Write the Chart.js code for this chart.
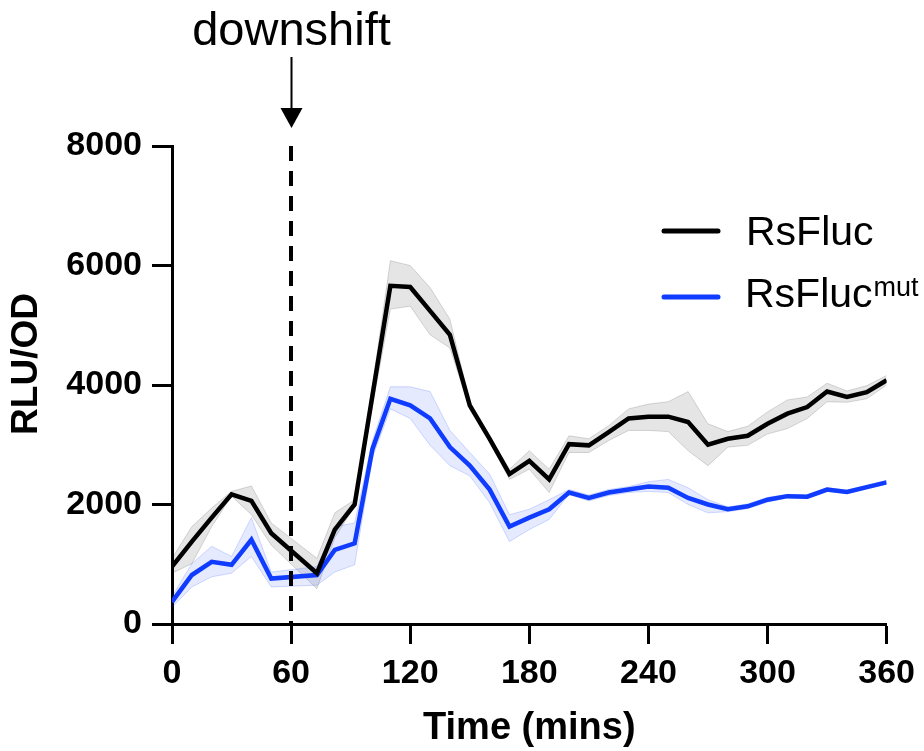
<!DOCTYPE html>
<html lang="en">
<head>
  <meta charset="UTF-8">
  <title>RsFluc downshift</title>
  <script src="https://cdn.jsdelivr.net/npm/chart.js"></script>
  <style>
    body {
      margin: 0;
      background-color: white;
    }
    .chart-box {
      width: 924px;
      height: 751px;
      position: relative;
    }
  </style>
</head>
<body>
  <div class="chart-box">
    <canvas id="lumChart"></canvas>
  </div>

  <script>
    // time points (mins)
    const times = [0, 10, 20, 30, 40, 50, 73, 82, 92, 101, 110, 120, 130, 140, 150, 160, 170, 180,
      190, 200, 210, 220, 230, 240, 250, 260, 270, 280, 290, 300, 310, 320, 330, 340, 350, 360];

    // RsFluc mean and error band
    const rsflucMean = [960, 1380, 1780, 2170, 2060, 1520, 850, 1580, 2000, 3830, 5660, 5640, 5240, 4840, 3660, 3100, 2510, 2730,
      2420, 3010, 2990, 3210, 3440, 3470, 3470, 3380, 3000, 3100, 3150, 3350, 3520, 3630, 3890, 3800, 3880, 4080];
    const rsflucLow = [850, 1010, 1630, 2140, 1830, 1320, 590, 1440, 1970, 3650, 5270, 5320, 4840, 4620, 3600, 3050, 2420, 2590,
      2200, 2870, 2870, 3070, 3240, 3240, 3220, 2900, 2650, 2960, 2990, 3180, 3270, 3440, 3720, 3710, 3770, 4000];
    const rsflucHigh = [1100, 1630, 1940, 2220, 2310, 1690, 1100, 1860, 2080, 4000, 6080, 6000, 5630, 5100, 3720, 3150, 2590, 2900,
      2590, 3150, 3100, 3320, 3600, 3680, 3720, 3890, 3350, 3220, 3310, 3550, 3750, 3800, 4030, 3900, 3990, 4160];

    // RsFluc^mut mean and error band
    const mutMean = [370, 820, 1040, 990, 1410, 760, 820, 1240, 1350, 2930, 3770, 3660, 3440, 2960, 2650, 2250, 1630, 1780,
      1920, 2200, 2110, 2200, 2250, 2300, 2280, 2110, 2000, 1920, 1970, 2080, 2140, 2130, 2250, 2210, 2290, 2370];
    const mutLow = [280, 620, 790, 850, 1130, 620, 650, 870, 990, 2790, 3600, 3440, 2990, 2650, 2480, 2030, 1380, 1580,
      1750, 2170, 2060, 2150, 2200, 2220, 2200, 2000, 1860, 1880, 1930, 2040, 2110, 2100, 2220, 2180, 2260, 2340];
    const mutHigh = [460, 1010, 1300, 1130, 1780, 870, 960, 1630, 1690, 3070, 3970, 3970, 3890, 3240, 2870, 2510, 1830, 1920,
      2080, 2250, 2160, 2250, 2300, 2380, 2420, 2280, 2080, 1960, 2010, 2120, 2170, 2160, 2280, 2240, 2320, 2400];

    const xTicks = [0, 60, 120, 180, 240, 300, 360];
    const yTicks = [0, 2000, 4000, 6000, 8000];
    const downshiftAt = 60;

    const FONT = '"Liberation Sans", Arial, Helvetica, sans-serif';
    const BLUE = '#0f3cff';

    const pts = arr => arr.map((v, i) => ({ x: times[i], y: v }));

    // dashed downshift marker, arrow, labels and custom legend
    const extras = {
      id: 'extras',
      afterDatasetsDraw(chart) {
        const { ctx, chartArea, scales } = chart;
        const x = Math.round(scales.x.getPixelForValue(downshiftAt));
        ctx.save();
        ctx.strokeStyle = '#000';
        ctx.lineWidth = 4;
        ctx.setLineDash([15, 10]);
        ctx.beginPath();
        ctx.moveTo(x, chartArea.top);
        ctx.lineTo(x, chartArea.bottom);
        ctx.stroke();
        ctx.restore();
      },
      afterDraw(chart) {
        const { ctx, scales } = chart;
        const x = Math.round(scales.x.getPixelForValue(downshiftAt)) + 0.5;
        ctx.save();
        // arrow
        ctx.strokeStyle = '#000';
        ctx.fillStyle = '#000';
        ctx.lineWidth = 2;
        ctx.beginPath();
        ctx.moveTo(x, 57);
        ctx.lineTo(x, 112);
        ctx.stroke();
        ctx.beginPath();
        ctx.moveTo(x - 11, 108);
        ctx.lineTo(x + 11, 108);
        ctx.lineTo(x, 128);
        ctx.closePath();
        ctx.fill();

        ctx.textAlign = 'center';
        ctx.textBaseline = 'alphabetic';
        ctx.font = '47px ' + FONT;
        ctx.fillText('downshift', x, 45);

        // y axis title
        ctx.save();
        ctx.translate(27, 364);
        ctx.rotate(-Math.PI / 2);
        ctx.font = 'bold 37px ' + FONT;
        ctx.textBaseline = 'middle';
        ctx.fillText('RLU/OD', 0, 0);
        ctx.restore();

        // legend
        ctx.lineWidth = 5;
        ctx.lineCap = 'round';
        ctx.strokeStyle = '#000';
        ctx.beginPath();
        ctx.moveTo(664, 231);
        ctx.lineTo(718, 231);
        ctx.stroke();
        ctx.strokeStyle = BLUE;
        ctx.beginPath();
        ctx.moveTo(664, 297);
        ctx.lineTo(718, 297);
        ctx.stroke();

        ctx.textAlign = 'left';
        ctx.fillStyle = '#000';
        ctx.font = '41px ' + FONT;
        ctx.fillText('RsFluc', 746, 245);
        ctx.fillText('RsFluc', 745, 307);
        const w = ctx.measureText('RsFluc').width;
        ctx.font = '27px ' + FONT;
        ctx.fillText('mut', 745 + w + 1, 296);
        ctx.restore();
      }
    };

    const ctx = document.getElementById('lumChart').getContext('2d');
    const lumChart = new Chart(ctx, {
      type: 'line',
      data: {
        datasets: [
          {
            label: 'RsFluc',
            data: pts(rsflucMean),
            borderColor: '#000',
            borderWidth: 4.5,
            pointRadius: 0,
            fill: false,
            order: 0
          },
          {
            label: 'RsFluc mut',
            data: pts(mutMean),
            borderColor: BLUE,
            borderWidth: 4.5,
            pointRadius: 0,
            fill: false,
            order: 0
          },
          {
            label: 'RsFluc low',
            data: pts(rsflucLow),
            borderColor: 'rgba(0,0,0,0.15)',
            borderWidth: 1,
            pointRadius: 0,
            fill: false,
            order: 2
          },
          {
            label: 'RsFluc high',
            data: pts(rsflucHigh),
            borderColor: 'rgba(0,0,0,0.15)',
            backgroundColor: 'rgba(0,0,0,0.1)',
            borderWidth: 1,
            pointRadius: 0,
            fill: 2,
            order: 2
          },
          {
            label: 'mut low',
            data: pts(mutLow),
            borderColor: 'rgba(15,60,255,0.18)',
            borderWidth: 1,
            pointRadius: 0,
            fill: false,
            order: 1
          },
          {
            label: 'mut high',
            data: pts(mutHigh),
            borderColor: 'rgba(15,60,255,0.18)',
            backgroundColor: 'rgba(15,60,255,0.11)',
            borderWidth: 1,
            pointRadius: 0,
            fill: 4,
            order: 1
          }
        ]
      },
      options: {
        responsive: true,
        maintainAspectRatio: false,
        animation: false,
        layout: {
          padding: { top: 146, right: 37, left: 0, bottom: 0 }
        },
        plugins: {
          legend: { display: false },
          tooltip: { enabled: false }
        },
        scales: {
          x: {
            type: 'linear',
            min: 0,
            max: 360,
            afterFit(scale) { scale.height = 127; },
            afterBuildTicks(scale) { scale.ticks = xTicks.map(v => ({ value: v })); },
            border: { display: true, color: '#000', width: 3 },
            grid: {
              drawOnChartArea: false,
              drawTicks: true,
              tickLength: 20,
              tickWidth: 3,
              tickColor: '#000'
            },
            ticks: {
              color: '#000',
              padding: 9,
              maxRotation: 0,
              callback: v => String(v),
              font: { family: FONT, size: 34, weight: 'bold' }
            },
            title: {
              display: true,
              text: 'Time (mins)',
              color: '#000',
              padding: { top: 0, bottom: 0 },
              font: { family: FONT, size: 38, weight: 'bold' }
            }
          },
          y: {
            min: 0,
            max: 8000,
            afterFit(scale) { scale.width = 172; },
            afterBuildTicks(scale) { scale.ticks = yTicks.map(v => ({ value: v })); },
            border: { display: true, color: '#000', width: 3 },
            grid: {
              drawOnChartArea: false,
              drawTicks: true,
              tickLength: 20,
              tickWidth: 3,
              tickColor: '#000'
            },
            ticks: {
              color: '#000',
              padding: 10,
              callback: v => String(v),
              font: { family: FONT, size: 34, weight: 'bold' }
            }
          }
        }
      },
      plugins: [extras]
    });
  </script>
</body>
</html>
